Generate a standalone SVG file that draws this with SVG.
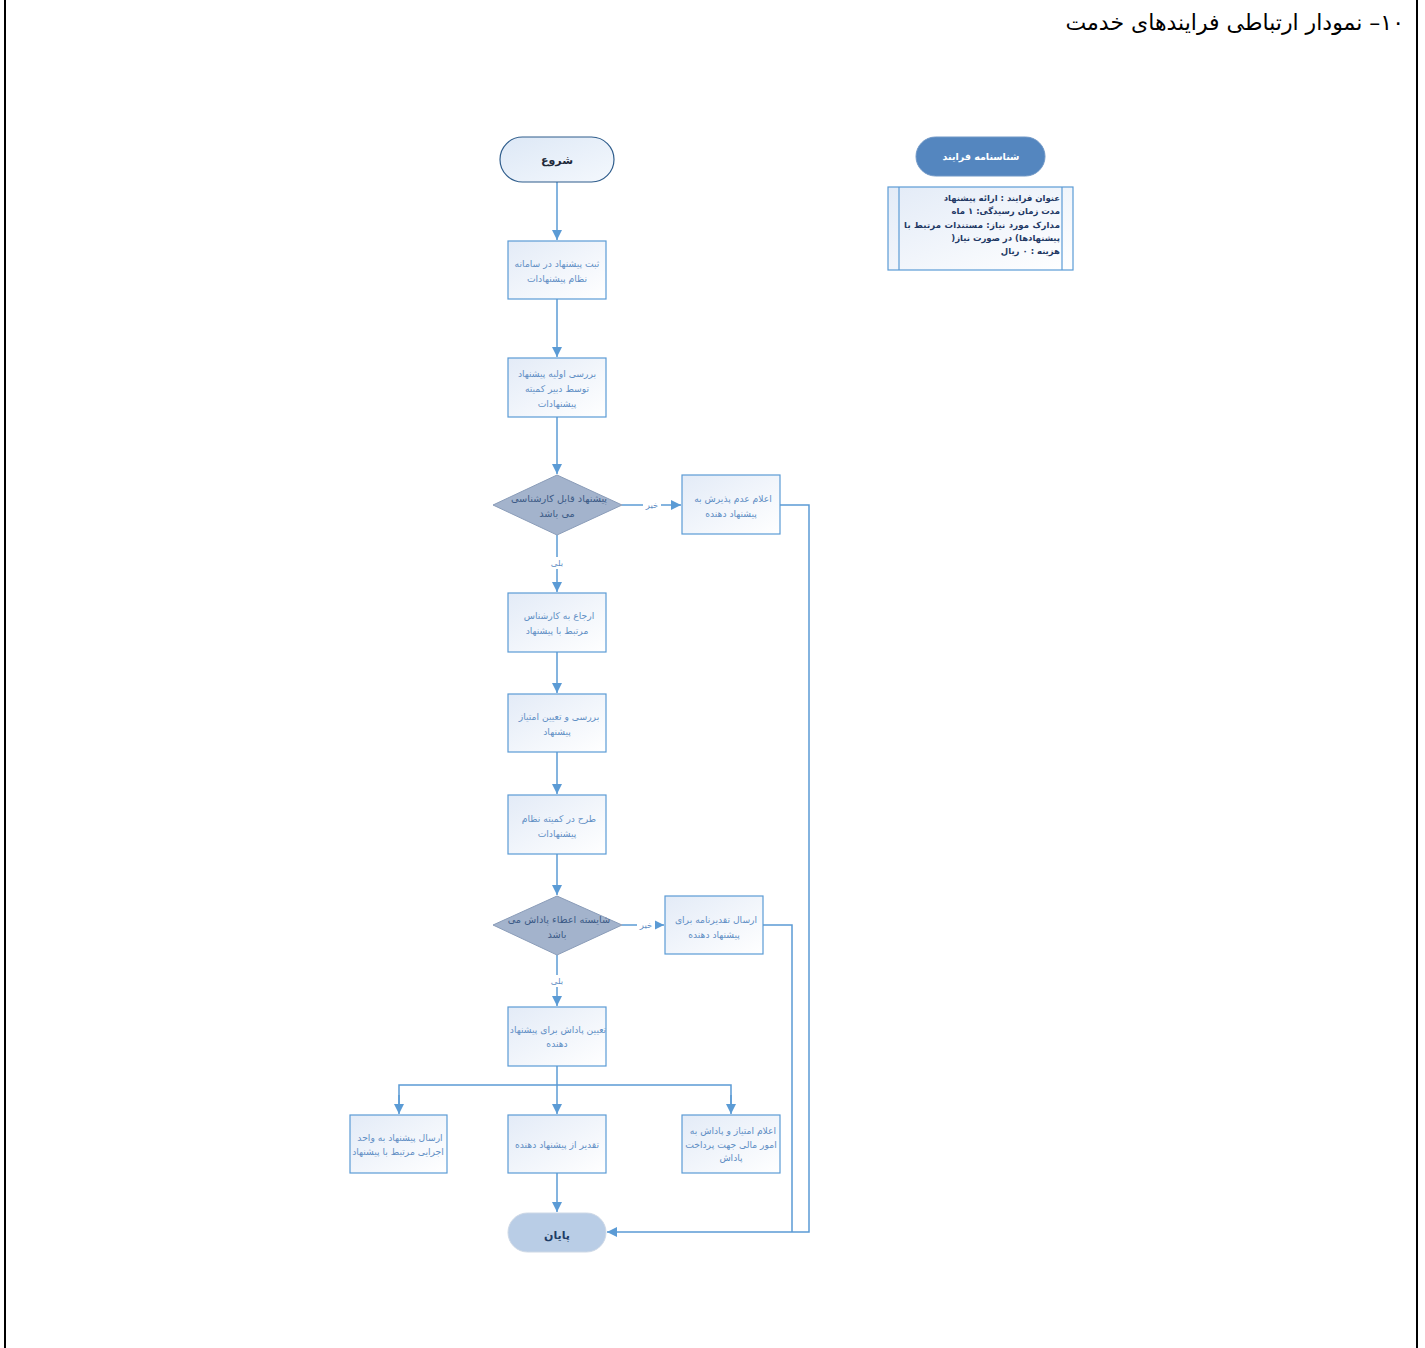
<svg xmlns="http://www.w3.org/2000/svg" width="1425" height="1348" viewBox="0 0 1425 1348">
<style>
  .ar { font-family: "DejaVu Sans", "Noto Sans", sans-serif; }
  .box { fill: url(#gBox); stroke: #5b9bd5; stroke-width: 1.2; }
  .btxt { font-size: 9.2px; fill: #5f8ec4; text-anchor: middle; }
  .dia { fill: #a3b3cc; stroke: #8a9cb8; stroke-width: 1; }
  .dtxt { font-size: 9.8px; fill: #3b5a86; text-anchor: middle; }
  .con { fill: none; stroke: #5b9bd5; stroke-width: 1.5; }
  .lbl { font-size: 8.5px; fill: #5f8ec4; text-anchor: middle; }
  .info { font-size: 8.5px; font-weight: bold; fill: #1f3864; }
</style>
<defs>
  <linearGradient id="gBox" x1="0" y1="0" x2="1" y2="1">
    <stop offset="0" stop-color="#e3ebf7"/>
    <stop offset="1" stop-color="#ffffff"/>
  </linearGradient>
  <linearGradient id="gStart" x1="0" y1="0" x2="1" y2="1">
    <stop offset="0" stop-color="#dde8f6"/>
    <stop offset="1" stop-color="#f4f8fd"/>
  </linearGradient>
  <marker id="arr" viewBox="0 0 10 10" refX="10" refY="5" markerWidth="10" markerHeight="10" markerUnits="userSpaceOnUse" orient="auto">
    <path d="M0,0 L10,5 L0,10 z" fill="#5b9bd5"/>
  </marker>
</defs>
<rect width="1425" height="1348" fill="#ffffff"/>
<line x1="5" y1="0" x2="5" y2="1348" stroke="#000" stroke-width="2"/>
<line x1="1417" y1="0" x2="1417" y2="1348" stroke="#000" stroke-width="2"/>
<text class="ar" x="1404" y="30" font-size="22" direction="rtl" text-anchor="start" fill="#000">۱۰– نمودار ارتباطی فرایندهای خدمت</text>

<g id="connectors">
  <path class="con" d="M557,182 V240" marker-end="url(#arr)"/>
  <path class="con" d="M557,299 V357" marker-end="url(#arr)"/>
  <path class="con" d="M557,417 V474" marker-end="url(#arr)"/>
  <path class="con" d="M622,505 H681" marker-end="url(#arr)"/>
  <path class="con" d="M557,535 V592" marker-end="url(#arr)"/>
  <path class="con" d="M557,652 V693" marker-end="url(#arr)"/>
  <path class="con" d="M557,752 V794" marker-end="url(#arr)"/>
  <path class="con" d="M557,854 V895" marker-end="url(#arr)"/>
  <path class="con" d="M622,925 H664" marker-end="url(#arr)"/>
  <path class="con" d="M557,955 V1006" marker-end="url(#arr)"/>
  <path class="con" d="M557,1066 V1114" marker-end="url(#arr)"/>
  <path class="con" d="M399,1105 V1085 H731 V1105" />
  <path class="con" d="M399,1095 V1114" marker-end="url(#arr)"/>
  <path class="con" d="M731,1095 V1114" marker-end="url(#arr)"/>
  <path class="con" d="M557,1173 V1212" marker-end="url(#arr)"/>
  <path class="con" d="M780,505 H809 V1232 H607" marker-end="url(#arr)"/>
  <path class="con" d="M763,925 H792 V1232"/>
  <rect x="643" y="499" width="18" height="12" fill="#fff"/>
  <text class="ar lbl" x="652" y="508">خیر</text>
  <rect x="637" y="919" width="18" height="12" fill="#fff"/>
  <text class="ar lbl" x="646" y="928">خیر</text>
  <rect x="549" y="557" width="16" height="12" fill="#fff"/>
  <text class="ar lbl" x="557" y="566">بلی</text>
  <rect x="549" y="975" width="16" height="12" fill="#fff"/>
  <text class="ar lbl" x="557" y="984">بلی</text>
</g>

<g id="start">
  <rect x="500" y="137" width="114" height="45" rx="22.5" fill="url(#gStart)" stroke="#2f5d8c" stroke-width="1.2"/>
  <text class="ar" x="557" y="164" font-size="11" font-weight="bold" fill="#1e2a3a" text-anchor="middle">شروع</text>
</g>
<g id="n1">
  <rect class="box" x="508" y="241" width="98" height="58"/>
  <text class="ar btxt" x="557" y="267">ثبت پیشنهاد در سامانه</text>
  <text class="ar btxt" x="557" y="282">نظام پیشنهادات</text>
</g>
<g id="n2">
  <rect class="box" x="508" y="358" width="98" height="59"/>
  <text class="ar btxt" x="557" y="377">بررسی اولیه پیشنهاد</text>
  <text class="ar btxt" x="557" y="392">توسط دبیر کمیته</text>
  <text class="ar btxt" x="557" y="407">پیشنهادات</text>
</g>
<g id="d1">
  <polygon class="dia" points="557,475 622,505 557,535 493,505"/>
  <text class="ar dtxt" x="559" y="502">پیشنهاد قابل کارشناسی</text>
  <text class="ar dtxt" x="557" y="517">می باشد</text>
</g>
<g id="r1">
  <rect class="box" x="682" y="475" width="98" height="59"/>
  <text class="ar btxt" x="733" y="502">اعلام عدم پذیرش به</text>
  <text class="ar btxt" x="731" y="517">پیشنهاد دهنده</text>
</g>
<g id="n3">
  <rect class="box" x="508" y="593" width="98" height="59"/>
  <text class="ar btxt" x="559" y="619">ارجاع به کارشناس</text>
  <text class="ar btxt" x="557" y="634">مرتبط با پیشنهاد</text>
</g>
<g id="n4">
  <rect class="box" x="508" y="694" width="98" height="58"/>
  <text class="ar btxt" x="559" y="720">بررسی و تعیین امتیاز</text>
  <text class="ar btxt" x="557" y="735">پیشنهاد</text>
</g>
<g id="n5">
  <rect class="box" x="508" y="795" width="98" height="59"/>
  <text class="ar btxt" x="559" y="822">طرح در کمیته نظام</text>
  <text class="ar btxt" x="557" y="837">پیشنهادات</text>
</g>
<g id="d2">
  <polygon class="dia" points="557,896 622,925 557,955 493,925"/>
  <text class="ar dtxt" x="559" y="923">شایسته اعطاء پاداش می</text>
  <text class="ar dtxt" x="557" y="938">باشد</text>
</g>
<g id="r2">
  <rect class="box" x="665" y="896" width="98" height="58"/>
  <text class="ar btxt" x="716" y="923">ارسال تقدیرنامه برای</text>
  <text class="ar btxt" x="714" y="938">پیشنهاد دهنده</text>
</g>
<g id="n6">
  <rect class="box" x="508" y="1007" width="98" height="59"/>
  <text class="ar btxt" x="558" y="1033">تعیین پاداش برای پیشنهاد</text>
  <text class="ar btxt" x="557" y="1047">دهنده</text>
</g>
<g id="b1">
  <rect class="box" x="350" y="1115" width="97" height="58"/>
  <text class="ar btxt" x="400" y="1141">ارسال پیشنهاد به واحد</text>
  <text class="ar btxt" x="398" y="1155">اجرایی مرتبط با پیشنهاد</text>
</g>
<g id="b2">
  <rect class="box" x="508" y="1115" width="98" height="58"/>
  <text class="ar btxt" x="557" y="1148">تقدیر از پیشنهاد دهنده</text>
</g>
<g id="b3">
  <rect class="box" x="682" y="1115" width="98" height="58"/>
  <text class="ar btxt" x="733" y="1134">اعلام امتیاز و پاداش به</text>
  <text class="ar btxt" x="731" y="1148">امور مالی جهت پرداخت</text>
  <text class="ar btxt" x="731" y="1161">پاداش</text>
</g>
<g id="end">
  <rect x="508" y="1213" width="98" height="39" rx="19.5" fill="#b9cde6" stroke="#cdd8e6" stroke-width="1"/>
  <text class="ar" x="557" y="1239" font-size="11" font-weight="bold" fill="#1f3d66" text-anchor="middle">پایان</text>
</g>

<g id="info-title">
  <rect x="916" y="137" width="129" height="39" rx="19.5" fill="#5486bf" stroke="#6f97c6" stroke-width="1"/>
  <text class="ar" x="981" y="160" font-size="9.5" font-weight="bold" fill="#ffffff" text-anchor="middle">شناسنامه فرایند</text>
</g>
<g id="info-box">
  <rect x="888" y="187" width="185" height="83" fill="url(#gBox)" stroke="#5b9bd5" stroke-width="1.2"/>
  <line x1="899" y1="187" x2="899" y2="270" stroke="#5b9bd5" stroke-width="1.2"/>
  <line x1="1062" y1="187" x2="1062" y2="270" stroke="#5b9bd5" stroke-width="1.2"/>
  <text class="ar info" x="1060" y="201" direction="rtl" text-anchor="start">عنوان فرایند : ارائه پیشنهاد</text>
  <text class="ar info" x="1060" y="214" direction="rtl" text-anchor="start">مدت زمان رسیدگی: ۱ ماه</text>
  <text class="ar info" x="1060" y="228" direction="rtl" text-anchor="start" textLength="156" lengthAdjust="spacing">مدارک مورد نیاز: مستندات مرتبط با</text>
  <text class="ar info" x="1060" y="241" direction="rtl" text-anchor="start">پیشنهادها) در صورت نیاز(</text>
  <text class="ar info" x="1060" y="254" direction="rtl" text-anchor="start">هزینه : ۰ ریال</text>
</g>
</svg>
